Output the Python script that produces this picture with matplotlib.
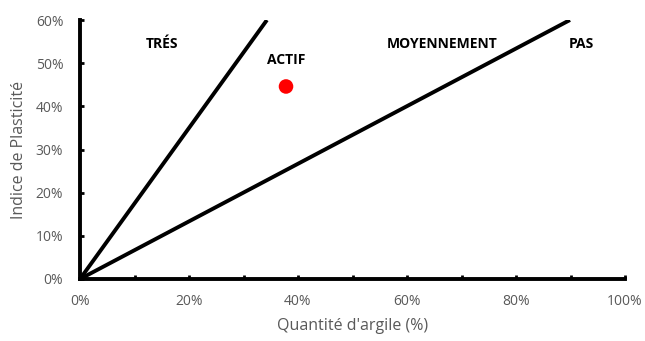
import matplotlib.pyplot as plt
from matplotlib.ticker import PercentFormatter, MultipleLocator

# Boundary lines (end points of lines from origin), in %
steep_x = [0, 34.3]
steep_y = [0, 60]
flat_x = [0, 89.9]
flat_y = [0, 60]

# Sample point
sample_x = [37.8]
sample_y = [44.6]

# Zone labels
labels = ["TRÉS", "ACTIF", "MOYENNEMENT", "PAS"]
label_x = [15, 37.8, 66.5, 92.0]
label_y = [54.5, 50.8, 54.5, 54.5]

plt.rcParams['font.family'] = ['Open Sans', 'DejaVu Sans']

fig = plt.figure(figsize=(6.45, 3.41), dpi=100)
ax = fig.add_axes([80/645, 62/341, 545/645, 259/341])

ax.plot(steep_x, steep_y, color="black", lw=2.8, solid_capstyle="butt")
ax.plot(flat_x, flat_y, color="black", lw=2.8, solid_capstyle="butt")
ax.scatter(sample_x, sample_y, s=110, color="#ff0000", zorder=3, edgecolors="none")

for t, x, y in zip(labels, label_x, label_y):
    ax.text(x, y, t, ha="center", va="center", fontsize=10, fontweight="bold", color="black")

ax.set_xlim(0, 100)
ax.set_ylim(0, 60)
ax.xaxis.set_major_locator(MultipleLocator(20))
ax.xaxis.set_minor_locator(MultipleLocator(10))
ax.yaxis.set_major_locator(MultipleLocator(10))
ax.xaxis.set_major_formatter(PercentFormatter(decimals=0))
ax.yaxis.set_major_formatter(PercentFormatter(decimals=0))

for s in ["top", "right"]:
    ax.spines[s].set_visible(False)
for s in ["left", "bottom"]:
    ax.spines[s].set_linewidth(2.8)
ax.tick_params(which="both", direction="in", length=3, width=2, colors="black",
               labelcolor="#595959", labelsize=10)
ax.tick_params(axis="x", pad=11)
ax.tick_params(axis="y", pad=12)

ax.set_xlabel("Quantité d'argile (%)", fontsize=11.5, color="#595959", labelpad=6)
ax.set_ylabel("Indice de Plasticité", fontsize=11.5, color="#595959", labelpad=6)

fig.savefig("out.png", dpi=100)
